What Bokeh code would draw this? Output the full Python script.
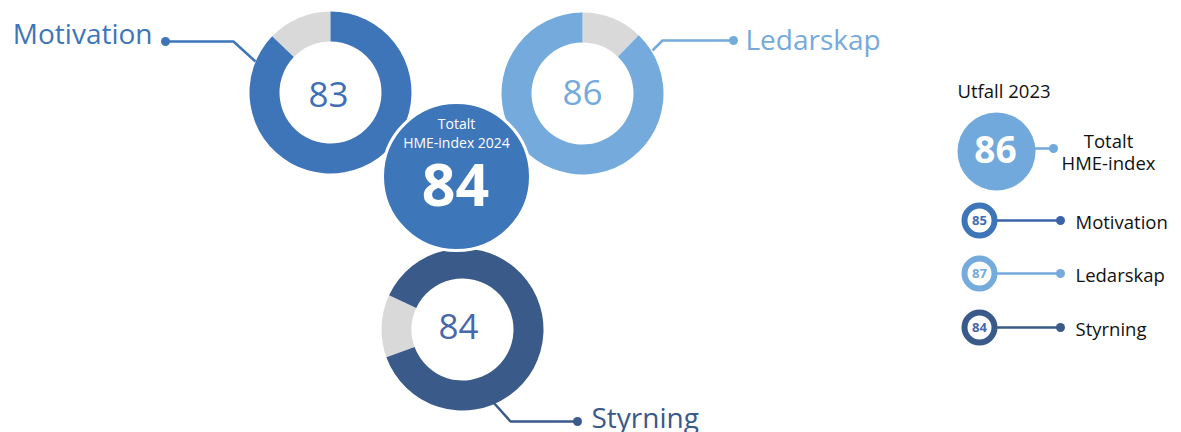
from bokeh.plotting import figure
from bokeh.models import Range1d
from bokeh.core.properties import value
from bokeh.embed import file_html
from bokeh.resources import INLINE

# ---------------- data ----------------
categories = ["Motivation", "Ledarskap", "Styrning"]
index_2024 = [83, 86, 84]
grey_share_2024 = [0.128, 0.122, 0.125]   # grey part of each ring
total_2024 = 84
total_label_2024 = ["Totalt", "HME-index 2024"]

legend_title = "Utfall 2023"
index_2023 = [85, 87, 84]
total_2023 = 86
total_label_2023 = ["Totalt", "HME-index"]

# ---------------- layout / style ----------------
W, H = 1181, 432
FONT = value("Open Sans")
BASE_SHIFT = 0.34
LEG_FS = 18.5


def Y(v):
    return H - v


def BY(baseline, size):
    # image baseline -> data y for bokeh's alphabetic baseline in svg
    return H - (baseline - BASE_SHIFT * size)


ring_colors = ["#3e75b9", "#74aadc", "#3a5a8a"]
num_colors = ["#3e6fb5", "#74aadc", "#4767ab"]
grey = "#d9d9d9"
ring_cx = [330, 582, 462]
ring_cy = [92, 93, 329]
R_OUT, R_IN = 81, 51
grey_anchor = [("start", 90), ("end", 90), ("start", 155)]

p = figure(width=W, height=H, x_range=Range1d(0, W), y_range=Range1d(0, H),
           output_backend="svg", toolbar_location=None, min_border=0)
p.axis.visible = False
p.grid.visible = False
p.outline_line_color = None
p.background_fill_color = "white"

for i, cat in enumerate(categories):
    span = 360 * grey_share_2024[i]
    kind, a = grey_anchor[i]
    if kind == "start":
        g0, g1 = a, a + span
    else:
        g0, g1 = a - span, a
    p.annular_wedge(x=[ring_cx[i]], y=[Y(ring_cy[i])], inner_radius=R_IN, outer_radius=R_OUT,
                    start_angle=g0, end_angle=g1, start_angle_units="deg", end_angle_units="deg",
                    fill_color=grey, line_color=None)
    p.annular_wedge(x=[ring_cx[i]], y=[Y(ring_cy[i])], inner_radius=R_IN, outer_radius=R_OUT,
                    start_angle=g1, end_angle=g0 + 360, start_angle_units="deg", end_angle_units="deg",
                    fill_color=ring_colors[i], line_color=None)

# numbers in the rings
num_pos = [(328, 106), (582, 104), (458, 338)]
p.text(x=[q[0] for q in num_pos], y=[BY(q[1], 35) for q in num_pos], text=[str(v) for v in index_2024],
       text_font=FONT, text_font_size="35px", text_align="center", text_baseline="alphabetic",
       text_color=num_colors)

# leader lines
leaders = [
    [(165, 41), (233, 41), (255, 61)],
    [(733, 40), (662, 40), (652, 50)],
    [(577, 421), (510, 421), (493, 402)],
]
p.multi_line(xs=[[q[0] for q in l] for l in leaders], ys=[[Y(q[1]) for q in l] for l in leaders],
             line_color=ring_colors, line_width=2.5)
p.circle(x=[l[0][0] for l in leaders], y=[Y(l[0][1]) for l in leaders], radius=4.5,
         fill_color=ring_colors, line_color=None)

# ring labels
lab_pos = [(152, 42, "right"), (745, 48, "left"), (591, 426, "left")]
for i, cat in enumerate(categories):
    x, y, al = lab_pos[i]
    p.text(x=[x], y=[BY(y, 28)], text=[cat], text_font=FONT, text_font_size="28px",
           text_align=al, text_baseline="alphabetic", text_color=ring_colors[i])

# centre circle
p.circle(x=[456], y=[Y(176)], radius=74, fill_color="#3e76ba", line_color="white", line_width=3)
p.text(x=[456, 456], y=[BY(128, 14), BY(147, 14)], text=total_label_2024, text_font=FONT,
       text_font_size="14px", text_align="center", text_baseline="alphabetic", text_color="white")
p.text(x=[455], y=[BY(205, 59)], text=[str(total_2024)], text_font=FONT, text_font_size="59px",
       text_font_style="bold", text_align="center", text_baseline="alphabetic", text_color="white")

# ---------------- legend (2023) ----------------
p.text(x=[957], y=[BY(96, LEG_FS)], text=[legend_title], text_font=FONT, text_font_size=f"{LEG_FS}px",
       text_align="left", text_baseline="alphabetic", text_color="#111111")
p.line(x=[1030, 1053], y=[Y(148), Y(148)], line_color="#72a9dc", line_width=2.5)
p.circle(x=[1053], y=[Y(148)], radius=4.5, fill_color="#72a9dc", line_color=None)
p.circle(x=[996], y=[Y(151)], radius=39, fill_color="#72a9dc", line_color=None)
p.text(x=[995], y=[BY(162, 37)], text=[str(total_2023)], text_font=FONT, text_font_size="37px",
       text_font_style="bold", text_align="center", text_baseline="alphabetic", text_color="white")
p.text(x=[1108, 1108], y=[BY(146, LEG_FS), BY(168, LEG_FS)], text=total_label_2023, text_font=FONT,
       text_font_size=f"{LEG_FS}px", text_align="center", text_baseline="alphabetic", text_color="#111111")

leg_y = [220, 273, 327]
leg_line_colors = ["#3c62a8", "#74aadc", "#3a5a8a"]
leg_ring_colors = ["#3e75b9", "#74aadc", "#3a5a8a"]
leg_num_colors = ["#3e6fb5", "#74aadc", "#4767ab"]
p.segment(x0=[995] * 3, y0=[Y(v) for v in leg_y], x1=[1060] * 3, y1=[Y(v) for v in leg_y],
          line_color=leg_line_colors, line_width=2.5)
p.circle(x=[1060] * 3, y=[Y(v) for v in leg_y], radius=4.5, fill_color=leg_line_colors, line_color=None)
p.circle(x=[979] * 3, y=[Y(v) for v in leg_y], radius=15, fill_color="white",
         line_color=leg_ring_colors, line_width=6)
p.text(x=[979] * 3, y=[BY(v + 4.5, 13) for v in leg_y], text=[str(v) for v in index_2023], text_font=FONT,
       text_font_size="13px", text_font_style="bold", text_align="center", text_baseline="alphabetic",
       text_color=leg_num_colors)
p.text(x=[1075] * 3, y=[BY(v + 7, LEG_FS) for v in leg_y], text=categories, text_font=FONT,
       text_font_size=f"{LEG_FS}px", text_align="left", text_baseline="alphabetic", text_color="#111111")

open("out.html", "w").write(file_html(p, INLINE))
